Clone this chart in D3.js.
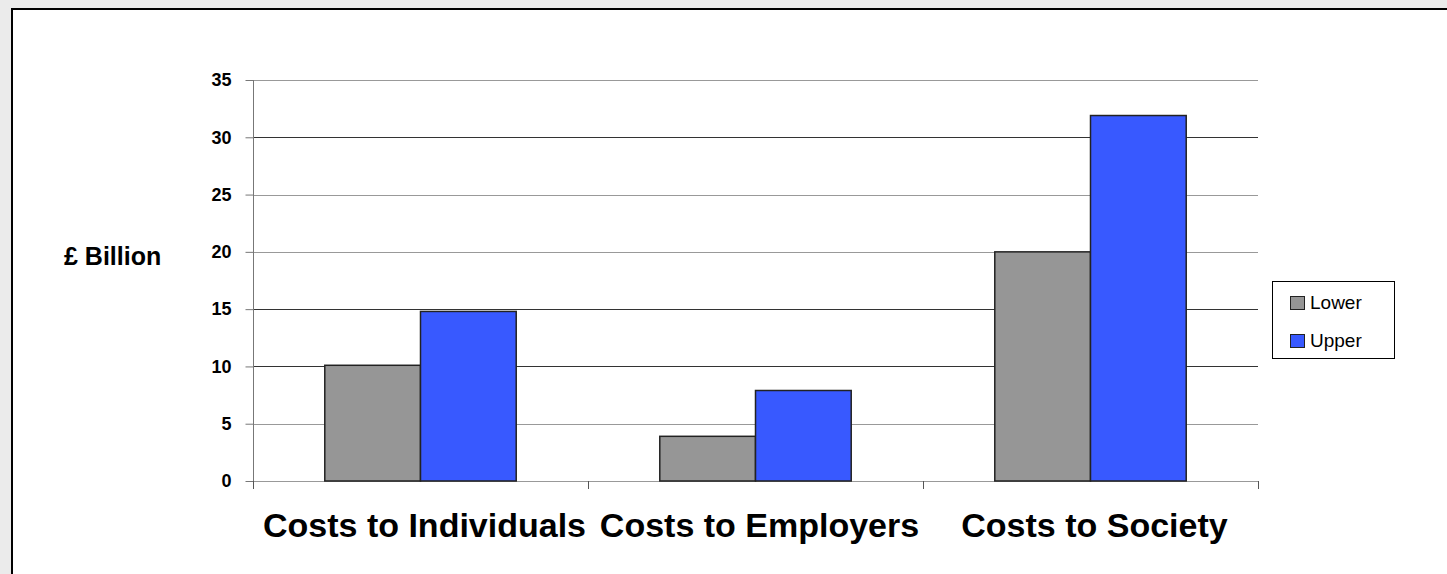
<!DOCTYPE html>
<head>
  <meta charset="utf-8">
  <script src="https://d3js.org/d3.v7.min.js"></script>
  <style>
    body { margin: 0; background: #ebebeb; }
    svg { display: block; font-family: "Liberation Sans", Arial, sans-serif; }
  </style>
</head>
<body>
  <script>
    // chart data
    var categories = ["Costs to Individuals", "Costs to Employers", "Costs to Society"];
    var seriesNames = ["Lower", "Upper"];
    var lowerValues = [10.1, 3.9, 20.0];
    var upperValues = [14.8, 7.9, 31.9];
    var yTicks = [0, 5, 10, 15, 20, 25, 30, 35];
    var colors = ["#969696", "#3859ff"];

    var outerWidth = 1447, outerHeight = 574;
    var margin = { top: 80, left: 253, right: 189, bottom: 93 };
    var width = outerWidth - margin.left - margin.right,
      height = outerHeight - margin.top - margin.bottom;

    var svg = d3.select("body").append("svg")
      .attr("width", outerWidth)
      .attr("height", outerHeight);

    // white panel with black frame
    svg.append("rect")
      .attr("x", 12).attr("y", 9)
      .attr("width", outerWidth).attr("height", outerHeight)
      .attr("fill", "#fff")
      .attr("stroke", "#000")
      .attr("stroke-width", 2);

    var g = svg.append("g")
      .attr("transform", "translate(" + margin.left + "," + margin.top + ")");

    var xScale = d3.scaleBand().domain(categories).range([0, width]).paddingInner(0).paddingOuter(0);
    var xSub = d3.scaleBand().domain(seriesNames).range([0, xScale.bandwidth()]).paddingInner(0).paddingOuter(0.75);
    var yScale = d3.scaleLinear().domain([0, 35]).range([height, 0]);

    // gridlines
    g.selectAll(".grid").data(yTicks).enter().append("line")
      .attr("x1", 0).attr("x2", width)
      .attr("y1", function(d) { return Math.round(yScale(d)) + 0.5; })
      .attr("y2", function(d) { return Math.round(yScale(d)) + 0.5; })
      .attr("stroke", function(d) { return (d === 10 || d === 15 || d === 30) ? "#333" : "#999"; })
      .attr("stroke-width", 1);

    // y axis
    var yAxis = d3.axisLeft(yScale).tickValues(yTicks).tickSize(8).tickSizeOuter(0).tickPadding(14);
    var yAxisG = g.append("g").attr("transform", "translate(0.5,0)").call(yAxis);
    yAxisG.select(".domain").attr("stroke", "#777").attr("d", "M0,0V" + (height + 8));
    yAxisG.selectAll(".tick line").attr("stroke", "#777");
    yAxisG.selectAll(".tick text")
      .attr("font-size", 18).attr("font-weight", "bold").attr("fill", "#000")
      .attr("font-family", "Liberation Sans, Arial, sans-serif");

    // x axis: ticks at category boundaries
    var bounds = categories.map(function(c) { return xScale(c); }).concat([width]);
    g.selectAll(".xtick").data(bounds).enter().append("line")
      .attr("x1", function(d) { return Math.round(d) + 0.5; })
      .attr("x2", function(d) { return Math.round(d) + 0.5; })
      .attr("y1", height).attr("y2", height + 8)
      .attr("stroke", "#555");

    g.selectAll(".xlabel").data(categories).enter().append("text")
      .attr("x", function(d) { return xScale(d) + xScale.bandwidth() / 2 + 4; })
      .attr("y", height + 56)
      .attr("text-anchor", "middle")
      .attr("font-size", 34).attr("font-weight", "bold")
      .text(function(d) { return d; });

    // bars
    var rows = categories.map(function(c, i) {
      return { cat: c, values: [lowerValues[i], upperValues[i]] };
    });
    var groups = g.selectAll(".cat").data(rows).enter().append("g")
      .attr("transform", function(d) { return "translate(" + xScale(d.cat) + ",0)"; });
    groups.selectAll("rect")
      .data(function(d) { return d.values.map(function(v, j) { return { name: seriesNames[j], value: v, j: j }; }); })
      .enter().append("rect")
      .attr("x", function(d) { return xSub(d.name); })
      .attr("y", function(d) { return yScale(d.value); })
      .attr("width", xSub.bandwidth())
      .attr("height", function(d) { return height - yScale(d.value); })
      .attr("fill", function(d) { return colors[d.j]; })
      .attr("stroke", "#222")
      .attr("stroke-width", 1.5);

    // y axis title
    svg.append("text")
      .attr("x", 64).attr("y", 265)
      .attr("font-size", 25).attr("font-weight", "bold")
      .text("£ Billion");

    // legend
    var legend = svg.append("g").attr("transform", "translate(1272,281)");
    legend.append("rect")
      .attr("x", 0.5).attr("y", 0.5).attr("width", 122).attr("height", 77)
      .attr("fill", "#fff").attr("stroke", "#000");
    seriesNames.forEach(function(s, i) {
      legend.append("rect")
        .attr("x", 18.5).attr("y", 15.5 + i * 38).attr("width", 14).attr("height", 13)
        .attr("fill", colors[i]).attr("stroke", "#222");
      legend.append("text")
        .attr("x", 38).attr("y", 28 + i * 38)
        .attr("font-size", 19)
        .text(s);
    });
  </script>
</body>
